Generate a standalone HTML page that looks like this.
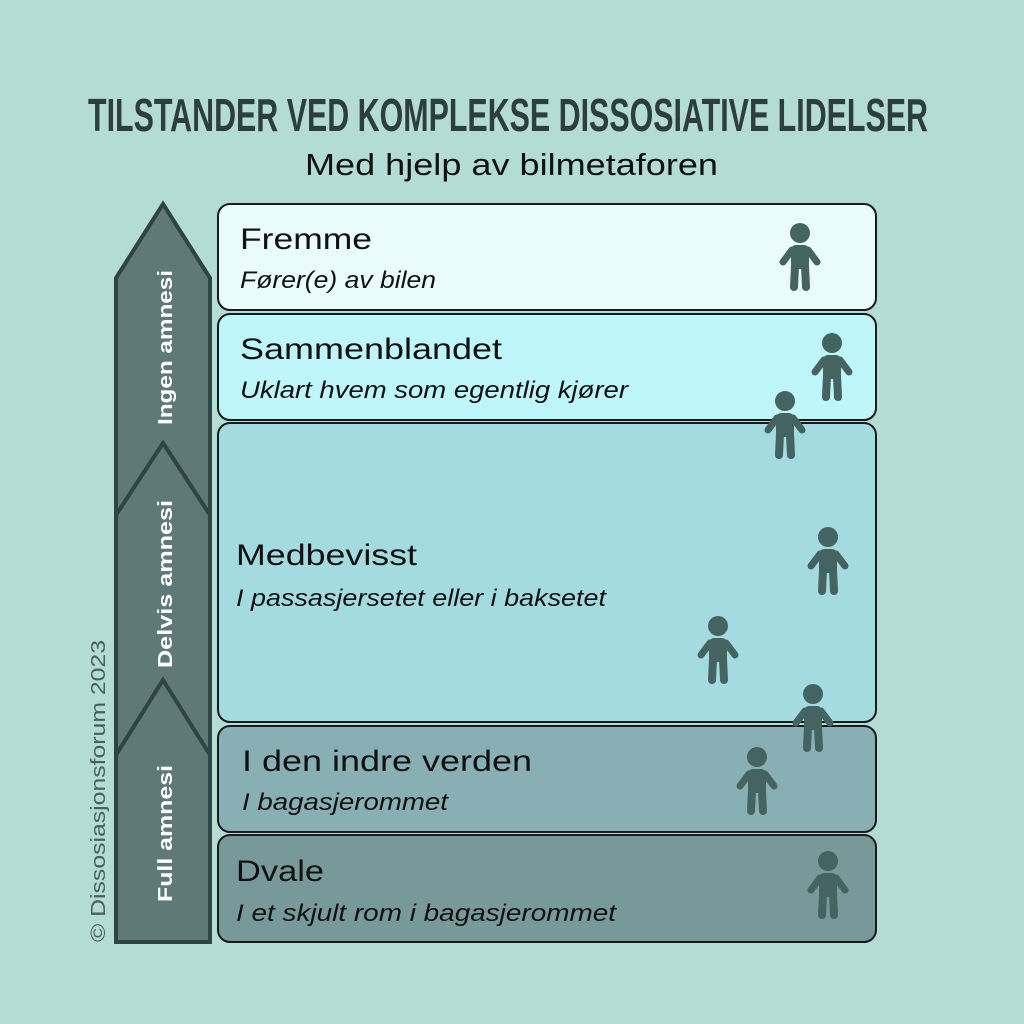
<!DOCTYPE html>
<html><head><meta charset="utf-8"><style>
body{margin:0;width:1024px;height:1024px;background:#b3dcd5;overflow:hidden;font-family:"Liberation Sans",sans-serif;}
</style></head><body>
<svg width="1024" height="1024" style="position:absolute;left:0;top:0" font-family="Liberation Sans, sans-serif">
<defs>
<g id="p" fill="#456361" stroke="#456361" stroke-linecap="round">
<circle cx="0" cy="0" r="10" stroke="none"/>
<rect x="-9" y="12" width="18" height="24" rx="5" stroke="none"/>
<line x1="-8" y1="17" x2="-17" y2="29" stroke-width="7"/>
<line x1="8" y1="17" x2="17" y2="29" stroke-width="7"/>
<line x1="-5" y1="33" x2="-6" y2="54" stroke-width="8"/>
<line x1="5" y1="33" x2="6" y2="54" stroke-width="8"/>
</g>
</defs>
<text x="88" y="131" font-size="46" font-weight="bold" fill="#2e3e3d" textLength="840" lengthAdjust="spacingAndGlyphs">TILSTANDER VED KOMPLEKSE DISSOSIATIVE LIDELSER</text>
<text x="305" y="175" font-size="31" fill="#111" textLength="413" lengthAdjust="spacingAndGlyphs">Med hjelp av bilmetaforen</text>
<g stroke="#2f4443" stroke-width="4" fill="#5f7878">
<polygon points="163,204 210,278 210,942 116,942 116,278"/>
<polygon points="163,443 210,515 210,942 116,942 116,515"/>
<polygon points="163,680 210,755 210,942 116,942 116,755"/>
</g>
<g fill="#fff" font-weight="bold" font-size="20">
<text transform="translate(172,425) rotate(-90)" textLength="155" lengthAdjust="spacingAndGlyphs">Ingen amnesi</text>
<text transform="translate(172,668) rotate(-90)" textLength="168" lengthAdjust="spacingAndGlyphs">Delvis amnesi</text>
<text transform="translate(172,902) rotate(-90)" textLength="137" lengthAdjust="spacingAndGlyphs">Full amnesi</text>
</g>
<text transform="translate(105,942) rotate(-90)" font-size="20" fill="#4a6060" textLength="302" lengthAdjust="spacingAndGlyphs">© Dissosiasjonsforum 2023</text>
<g stroke="#1a1a1a" stroke-width="2">
<rect x="218" y="204" width="658" height="106" rx="12" fill="#eafbfc"/>
<rect x="218" y="314" width="658" height="106" rx="12" fill="#bff6fb"/>
<rect x="218" y="423" width="658" height="299" rx="12" fill="#a3dbe0"/>
<rect x="218" y="726" width="658" height="106" rx="12" fill="#88afb3"/>
<rect x="218" y="835" width="658" height="107" rx="12" fill="#77999a"/>
</g>
<g fill="#111" font-size="30">
<text x="240" y="249" textLength="132" lengthAdjust="spacingAndGlyphs">Fremme</text>
<text x="240" y="359" textLength="262" lengthAdjust="spacingAndGlyphs">Sammenblandet</text>
<text x="236" y="565" textLength="181" lengthAdjust="spacingAndGlyphs">Medbevisst</text>
<text x="242" y="771" textLength="290" lengthAdjust="spacingAndGlyphs">I den indre verden</text>
<text x="236" y="881" textLength="88" lengthAdjust="spacingAndGlyphs">Dvale</text>
</g>
<g fill="#111" font-size="24" font-style="italic">
<text x="240" y="288" textLength="196" lengthAdjust="spacingAndGlyphs">Fører(e) av bilen</text>
<text x="240" y="398" textLength="388" lengthAdjust="spacingAndGlyphs">Uklart hvem som egentlig kjører</text>
<text x="236" y="606" textLength="370" lengthAdjust="spacingAndGlyphs">I passasjersetet eller i baksetet</text>
<text x="242" y="810" textLength="206" lengthAdjust="spacingAndGlyphs">I bagasjerommet</text>
<text x="236" y="921" textLength="380" lengthAdjust="spacingAndGlyphs">I et skjult rom i bagasjerommet</text>
</g>
<use href="#p" x="800" y="233"/>
<use href="#p" x="832" y="343"/>
<use href="#p" x="785" y="401"/>
<use href="#p" x="828" y="537"/>
<use href="#p" x="718" y="626"/>
<use href="#p" x="813" y="694"/>
<use href="#p" x="757" y="757"/>
<use href="#p" x="828" y="861"/>
</svg>
</body></html>
